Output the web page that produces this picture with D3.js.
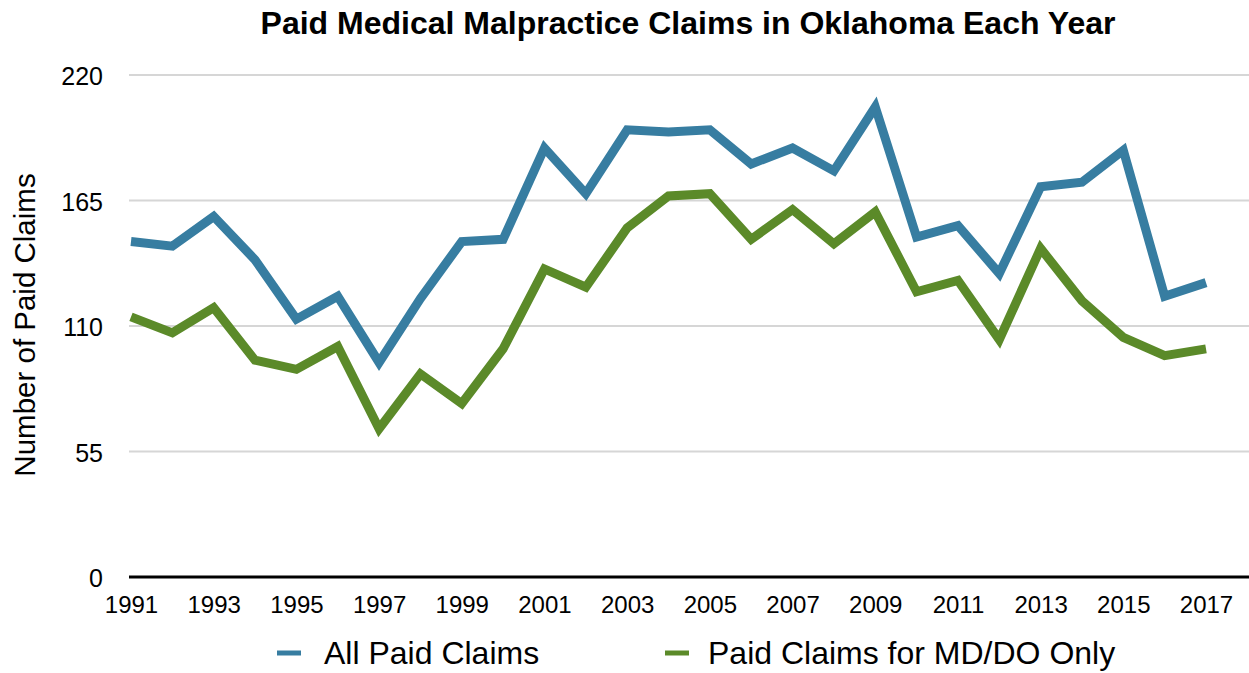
<meta charset='utf-8'>
<script src="https://d3js.org/d3.v7.min.js"></script>
<body style="margin:0"></body>
<script>

// DATA
var years = [1991,1992,1993,1994,1995,1996,1997,1998,1999,2000,2001,2002,2003,2004,
    2005,2006,2007,2008,2009,2010,2011,2012,2013,2014,2015,2016,2017];
var allClaims = [147,145,158,139,113,123,94,122,147,148,188,168,196,195,
    196,181,188,178,206,149,154,133,171,173,187,123,129];
var mdClaims = [114,107,118,95,91,101,65,89,76,100,135,127,153,167,
    168,148,161,146,160,125,130,104,144,121,105,97,100];
var yTicks = [0,55,110,165,220];
var xTicks = [1991,1993,1995,1997,1999,2001,2003,2005,2007,2009,2011,2013,2015,2017];
var seriesNames = ['All Paid Claims', 'Paid Claims for MD/DO Only'];

// SETTINGS
var ww = 1249;
var wh = 673;
var blue = '#377da1';
var green = '#5b8a29';
var font = 'Liberation Sans, Arial, Helvetica, sans-serif';

var svg = d3.select('body').append('svg')
    .attr('width', ww)
    .attr('height', wh)
    .style('display', 'block')
    .style('background', 'white');

var x = d3.scaleLinear().domain([1991, 2017]).range([131, 1206]);
var y = d3.scaleLinear().domain([0, 220]).range([577, 75]);

// GRID
svg.append('g')
    .selectAll('line')
    .data(yTicks.filter(function (d) { return d > 0; }))
    .enter().append('line')
    .attr('x1', 129)
    .attr('x2', ww)
    .attr('y1', function (d) { return y(d); })
    .attr('y2', function (d) { return y(d); })
    .attr('stroke', '#d6d6d6')
    .attr('stroke-width', 2);

// Y LABELS
svg.append('g')
    .selectAll('text')
    .data(yTicks)
    .enter().append('text')
    .attr('x', 103)
    .attr('y', function (d) { return y(d) + 10; })
    .attr('text-anchor', 'end')
    .attr('font-family', font)
    .attr('font-size', 25)
    .attr('fill', '#000')
    .text(function (d) { return d; });

// X AXIS
var xAxis = d3.axisBottom(x)
    .tickValues(xTicks)
    .tickFormat(d3.format('d'))
    .tickSize(0)
    .tickPadding(19);
var xg = svg.append('g')
    .attr('transform', 'translate(0,' + y(0) + ')')
    .call(xAxis);
xg.select('.domain').remove();
xg.selectAll('text')
    .attr('font-family', font)
    .attr('font-size', 24)
    .attr('fill', '#000');

svg.append('line')
    .attr('x1', 129)
    .attr('x2', ww)
    .attr('y1', y(0))
    .attr('y2', y(0))
    .attr('stroke', '#000')
    .attr('stroke-width', 3);

// LINES
var line = d3.line()
    .x(function (d) { return x(d[0]); })
    .y(function (d) { return y(d[1]); });

function drawSeries(vals, col) {
    svg.append('path')
        .datum(years.map(function (yr, i) { return [yr, vals[i]]; }))
        .attr('d', line)
        .attr('fill', 'none')
        .attr('stroke', col)
        .attr('stroke-width', 9)
        .attr('stroke-linejoin', 'miter')
        .attr('stroke-miterlimit', 10);
}
drawSeries(allClaims, blue);
drawSeries(mdClaims, green);

// TITLES
svg.append('text')
    .attr('x', 688)
    .attr('y', 34)
    .attr('text-anchor', 'middle')
    .attr('font-family', font)
    .attr('font-size', 32)
    .attr('font-weight', 'bold')
    .text('Paid Medical Malpractice Claims in Oklahoma Each Year');

svg.append('text')
    .attr('transform', 'translate(35,325) rotate(-90)')
    .attr('text-anchor', 'middle')
    .attr('font-family', font)
    .attr('font-size', 29.5)
    .text('Number of Paid Claims');

// LEGEND
var legend = [
    {name: seriesNames[0], col: blue, lx: 277, tx: 324},
    {name: seriesNames[1], col: green, lx: 665, tx: 708}
];
legend.forEach(function (l) {
    svg.append('line')
        .attr('x1', l.lx)
        .attr('x2', l.lx + 24)
        .attr('y1', 653)
        .attr('y2', 653)
        .attr('stroke', l.col)
        .attr('stroke-width', 5);
    svg.append('text')
        .attr('x', l.tx)
        .attr('y', 664)
        .attr('font-family', font)
        .attr('font-size', 32)
        .text(l.name);
});

</script>
